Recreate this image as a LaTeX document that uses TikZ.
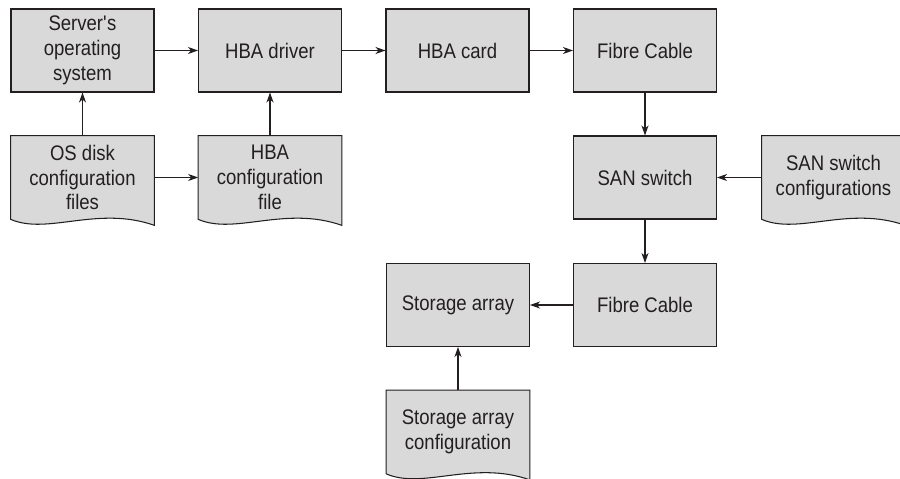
\documentclass[tikz,border=0pt]{standalone}
\usepackage{fontspec}
\setmainfont[FakeStretch=0.88]{Liberation Sans}
\usetikzlibrary{arrows.meta,calc}
\definecolor{boxgray}{RGB}{217,217,217}
\definecolor{ink}{RGB}{35,31,32}
\tikzset{
  basenode/.style={minimum width=2.86cm, minimum height=1.66cm, inner sep=0pt,
    align=center, text=ink, font=\fontsize{12}{14.2}\selectfont},
  box/.style={basenode, draw=ink, fill=boxgray, line width=0.6pt},
  docnode/.style={basenode},
  docline/.style={draw=ink, fill=boxgray, line width=0.6pt},
  arr/.style={draw=ink, line width=0.6pt, -{Stealth[length=0.2cm, width=0.14cm, inset=0.06cm]}}
}
\newcommand\docpath[1]{%
  \path[docline] (#1.south west) -- (#1.north west) -- (#1.north east) -- ($(#1.south east)+(0,6)$)
    .. controls ($(#1.south east)+(-57,-14)$) and ($(#1.south east)+(-107,16)$) .. (#1.south west) -- cycle;}
\begin{document}
\begin{tikzpicture}[x=0.02cm, y=-0.02cm]
\clip (0,0) rectangle (900,479);
\fill[white] (0,0) rectangle (900,479);
% plain boxes
\node[box] (os)   at (82.5,50.5)  {Server\textquotesingle s\\operating\\system};
\node[box] (drv)  at (270,50.5)   {HBA driver};
\node[box] (card) at (457.5,50.5) {HBA card};
\node[box] (fc1)  at (645,50.5)   {Fibre Cable};
\node[box] (san)  at (645,177.5)  {SAN switch};
\node[box] (fc2)  at (645,305)    {Fibre Cable};
\node[box] (sa)   at (458,305)    {Storage array};
% document shapes (outline first, then text)
\node[docnode] (osdoc)  at (82.5,177.5) {};
\node[docnode] (hbadoc) at (270,177.5)  {};
\node[docnode] (sandoc) at (833.5,177.5){};
\node[docnode] (sadoc)  at (458,432)    {};
\docpath{osdoc}
\docpath{hbadoc}
\docpath{sandoc}
\docpath{sadoc}
\node[docnode] (osdoct)  at (osdoc)  {OS disk\\configuration\\files};
\node[docnode] (hbadoct) at (hbadoc) {HBA\\configuration\\file};
\node[docnode] (sandoct) at (sandoc) {SAN switch\\configurations};
\node[docnode] (sadoct)  at (sadoc)  {Storage array\\configuration};
% connectors
\draw[arr] (os.east) -- (drv.west);
\draw[arr] (drv.east) -- (card.west);
\draw[arr] (card.east) -- (fc1.west);
\draw[arr] (osdoc.north) -- (os.south);
\draw[arr] (hbadoc.north) -- (drv.south);
\draw[arr] (osdoc.east) -- (hbadoc.west);
\draw[arr] (fc1.south) -- (san.north);
\draw[arr] (sandoc.west) -- (san.east);
\draw[arr] (san.south) -- (fc2.north);
\draw[arr] (fc2.west) -- (sa.east);
\draw[arr] (sadoc.north) -- (sa.south);
\end{tikzpicture}
\end{document}
